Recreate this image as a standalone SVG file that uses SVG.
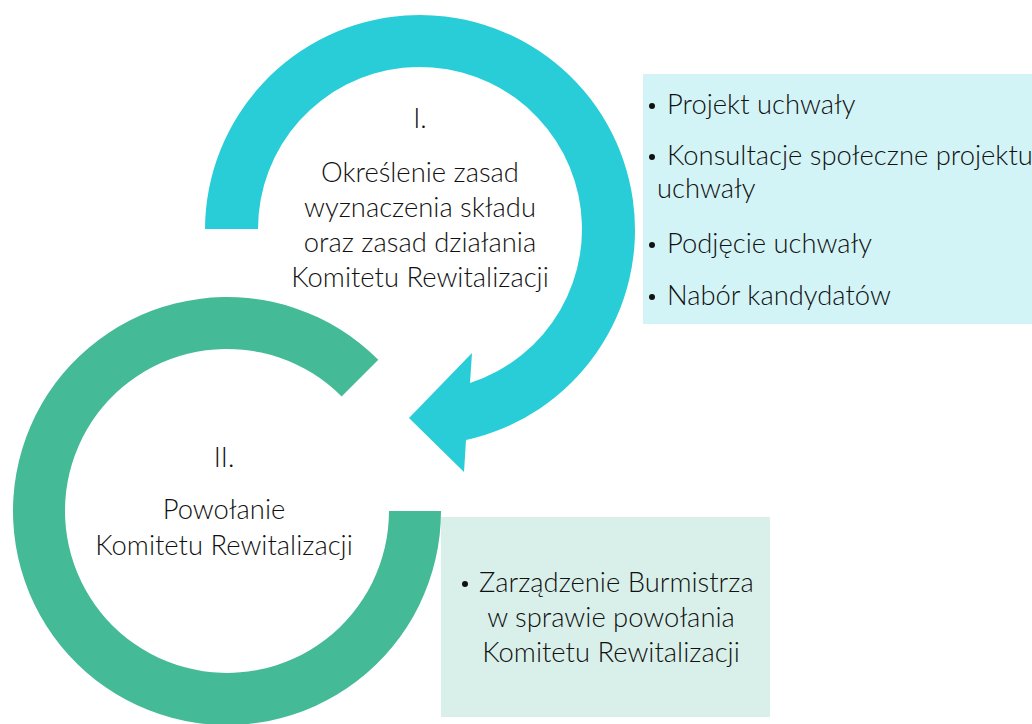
<svg xmlns="http://www.w3.org/2000/svg" width="1032" height="724" viewBox="0 0 1032 724">
<style>
.t{font-family:Lato,"Open Sans","Liberation Sans",sans-serif;font-weight:300;font-size:27.4px;fill:#111111}
.c{text-anchor:middle}
.cyan{fill:#29cdd7}
.green{fill:#44ba97}
.bul{fill:#111}
</style>
<rect width="1032" height="724" fill="#ffffff"/>
<g id="box-1">
<rect x="643" y="74" width="389" height="250" fill="#d3f4f7"/>
<circle class="bul" cx="652" cy="106" r="3"/>
<text class="t" x="667" y="114">Projekt uchwały</text>
<circle class="bul" cx="652" cy="157" r="3"/>
<text class="t" x="667" y="165">Konsultacje społeczne projektu</text>
<text class="t" x="657" y="198">uchwały</text>
<circle class="bul" cx="652" cy="245" r="3"/>
<text class="t" x="667" y="253">Podjęcie uchwały</text>
<circle class="bul" cx="652" cy="297" r="3"/>
<text class="t" x="667" y="305">Nabór kandydatów</text>
</g>
<g id="box-2">
<rect x="441" y="517" width="329" height="200" fill="#d9f0ea"/>
<circle class="bul" cx="465" cy="584" r="3"/>
<text class="t" x="479" y="592">Zarządzenie Burmistrza</text>
<text class="t c" x="611" y="627">w sprawie powołania</text>
<text class="t c" x="611" y="662">Komitetu Rewitalizacji</text>
</g>
<g id="connectors">
<path id="arrow-green" class="green" d="M441,511 A214,214 0 1 1 378.3,359.7 L341.6,396.4 A162,162 0 1 0 389,511 Z"/>
<path id="arrow-cyan" class="cyan" d="M205,229 A215,215 0 1 1 466,440 L464,472 L409,418 L472,353 L470,383 A162,162 0 1 0 258,229 Z"/>
</g>
<g id="step-1">
<text class="t c" x="420" y="128">I.</text>
<text class="t c" x="420" y="182">Określenie zasad</text>
<text class="t c" x="420" y="217">wyznaczenia składu</text>
<text class="t c" x="420" y="252">oraz zasad działania</text>
<text class="t c" x="420" y="287">Komitetu Rewitalizacji</text>
</g>
<g id="step-2">
<text class="t c" x="224" y="467">II.</text>
<text class="t c" x="224" y="519">Powołanie</text>
<text class="t c" x="224" y="555">Komitetu Rewitalizacji</text>
</g>
</svg>
